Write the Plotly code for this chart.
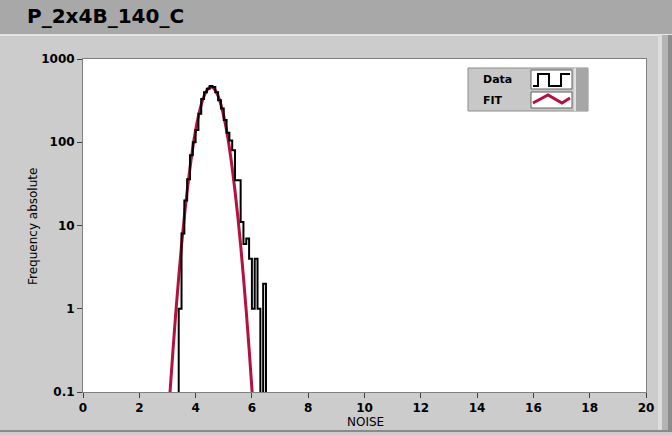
import plotly.graph_objects as go

# ---------------- data ----------------
bin_left_edges = [3.4, 3.5, 3.6, 3.7, 3.8, 3.9, 4.0, 4.1, 4.2, 4.3, 4.4, 4.5, 4.6, 4.7,
                  4.8, 4.9, 5.0, 5.1, 5.2, 5.3, 5.4, 5.5, 5.6, 5.7, 5.8, 5.9, 6.0, 6.1,
                  6.2, 6.3, 6.4]
bin_width = 0.1
data_counts = [1, 8, 20, 36, 70, 100, 140, 220, 330, 400, 440, 475, 460, 400,
               320, 255, 185, 130, 105, 80, 35, 35, 11, 6, 7, 4, 1, 4,
               1, 0, 2]

fit_x = [3.0, 3.1, 3.2, 3.3, 3.4, 3.5, 3.6, 3.7, 3.8, 3.9, 4.0, 4.1, 4.2, 4.3, 4.4,
         4.5, 4.6, 4.7, 4.8, 4.9, 5.0, 5.1, 5.2, 5.3, 5.4, 5.5, 5.6, 5.7, 5.8, 5.9,
         6.0, 6.1]
fit_y = [0.033, 0.11, 0.33, 0.93, 2.4, 5.8, 12.8, 26, 49, 86, 139, 206, 283, 359, 421,
         456, 456, 421, 359, 283, 206, 139, 86, 49, 26, 12.8, 5.8, 2.4, 0.93, 0.33,
         0.11, 0.033]

title_text = "P_2x4B_140_C"
x_label = "NOISE"
y_label = "Frequency absolute"
x_ticks = [0, 2, 4, 6, 8, 10, 12, 14, 16, 18, 20]
y_ticks = [0.1, 1, 10, 100, 1000]
y_tick_text = ["0.1", "1", "10", "100", "1000"]
legend_names = ["Data", "FIT"]

# ---------------- build step outline of the histogram ----------------
FLOOR = 1e-3  # zero counts drawn below the visible range
step_x = [bin_left_edges[0] - bin_width] + bin_left_edges + [bin_left_edges[-1] + bin_width]
step_y = [FLOOR] + [c if c > 0 else FLOOR for c in data_counts] + [FLOOR]

FONT = "DejaVu Sans"
RED = "#B4123E"

W, H = 672, 435
L, R, T, B = 83, 646, 59, 392


def px(x):
    return (x - L) / (R - L)


def py(y):
    return (B - y) / (B - T)


fig = go.Figure()
fig.add_trace(go.Scatter(x=fit_x, y=fit_y, mode="lines",
                         line=dict(color=RED, width=3, shape="spline"),
                         showlegend=False, hoverinfo="skip"))
fig.add_trace(go.Scatter(x=step_x, y=step_y, mode="lines",
                         line=dict(color="black", width=2, shape="hv"),
                         showlegend=False, hoverinfo="skip"))

shapes = []
# title band
shapes.append(dict(type="rect", xref="paper", yref="paper", layer="below",
                   x0=px(0), x1=px(W), y0=py(0), y1=py(34),
                   fillcolor="#A8A8A8", line=dict(width=0)))
shapes.append(dict(type="line", xref="paper", yref="paper", layer="below",
                   x0=px(0), x1=px(W), y0=py(35), y1=py(35),
                   line=dict(color="#E4E4E4", width=2)))
# right edge strip
shapes.append(dict(type="rect", xref="paper", yref="paper", layer="below",
                   x0=px(658), x1=px(662), y0=py(35), y1=py(432),
                   fillcolor="#DDDDDD", line=dict(width=0)))
shapes.append(dict(type="rect", xref="paper", yref="paper", layer="below",
                   x0=px(662), x1=px(668), y0=py(35), y1=py(432),
                   fillcolor="#B4B4B4", line=dict(width=0)))
shapes.append(dict(type="rect", xref="paper", yref="paper", layer="below",
                   x0=px(668), x1=px(672), y0=py(35), y1=py(432),
                   fillcolor="#8C8C8C", line=dict(width=0)))
# bottom edge
shapes.append(dict(type="line", xref="paper", yref="paper", layer="below",
                   x0=px(0), x1=px(W), y0=py(431), y1=py(431),
                   line=dict(color="#8A8A8A", width=2)))

# legend box
shapes.append(dict(type="rect", xref="paper", yref="paper",
                   x0=px(468), x1=px(588), y0=py(68), y1=py(111),
                   fillcolor="#C8C8C8", line=dict(color="#8C8C8C", width=1)))
shapes.append(dict(type="rect", xref="paper", yref="paper",
                   x0=px(574), x1=px(588), y0=py(68), y1=py(111),
                   fillcolor="#A6A6A6", line=dict(width=0)))
shapes.append(dict(type="rect", xref="paper", yref="paper",
                   x0=px(574), x1=px(576), y0=py(68), y1=py(111),
                   fillcolor="#E0E0E0", line=dict(width=0)))
for (y0, y1) in [(70, 89), (92, 108)]:
    shapes.append(dict(type="rect", xref="paper", yref="paper",
                       x0=px(531), x1=px(572), y0=py(y0), y1=py(y1),
                       fillcolor="white", line=dict(color="#606060", width=1)))
# legend glyphs
step_pts = [(533, 86), (538, 86), (538, 74), (549, 74), (549, 86), (561, 86),
            (561, 74), (570, 74)]
zig_pts = [(533, 103), (548, 95), (562, 103), (570, 98)]


def path_from(pts):
    return "M " + " L ".join(f"{px(a):.5f},{py(b):.5f}" for a, b in pts)


shapes.append(dict(type="path", xref="paper", yref="paper", path=path_from(step_pts),
                   line=dict(color="black", width=2)))
shapes.append(dict(type="path", xref="paper", yref="paper", path=path_from(zig_pts),
                   line=dict(color=RED, width=3)))

annotations = [
    dict(text=title_text, xref="paper", yref="paper", x=px(25), y=py(16),
         xanchor="left", yanchor="middle", showarrow=False,
         font=dict(family=FONT, size=20, color="black", weight="bold")),
    dict(text=x_label, xref="paper", yref="paper", x=px(365), y=py(422),
         xanchor="center", yanchor="middle", showarrow=False,
         font=dict(family=FONT, size=12, color="black")),
    dict(text=y_label, xref="paper", yref="paper", x=px(33), y=py(227),
         xanchor="center", yanchor="middle", showarrow=False, textangle=-90,
         font=dict(family=FONT, size=12, color="black")),
    dict(text=legend_names[0], xref="paper", yref="paper", x=px(481), y=py(79),
         xanchor="left", yanchor="middle", showarrow=False,
         font=dict(family=FONT, size=11, color="black", weight="bold")),
    dict(text=legend_names[1], xref="paper", yref="paper", x=px(481), y=py(100),
         xanchor="left", yanchor="middle", showarrow=False,
         font=dict(family=FONT, size=11, color="black", weight="bold")),
]

fig.update_layout(
    width=W, height=H,
    margin=dict(l=L, r=W - R, t=T, b=H - B, pad=0),
    paper_bgcolor="#CCCCCC",
    plot_bgcolor="white",
    shapes=shapes,
    annotations=annotations,
    showlegend=False,
    xaxis=dict(range=[0, 20], tickvals=x_ticks, ticks="outside", ticklen=5,
               tickcolor="#404040", showgrid=False, zeroline=False,
               showline=True, linecolor="#808080", linewidth=1, mirror=True,
               tickfont=dict(family=FONT, size=12, color="black", weight="bold")),
    yaxis=dict(type="log", range=[-1, 3], tickvals=y_ticks, ticktext=y_tick_text,
               ticks="outside", ticklen=5, tickcolor="#404040", showgrid=False,
               zeroline=False, showline=True, linecolor="#808080", linewidth=1,
               mirror=True,
               tickfont=dict(family=FONT, size=12, color="black", weight="bold")),
)

fig.write_html(
    "out.html",
    config={"displayModeBar": False},
    post_script="document.body.style.margin='0';document.body.style.padding='0';"
                "document.body.style.overflow='hidden';",
)
